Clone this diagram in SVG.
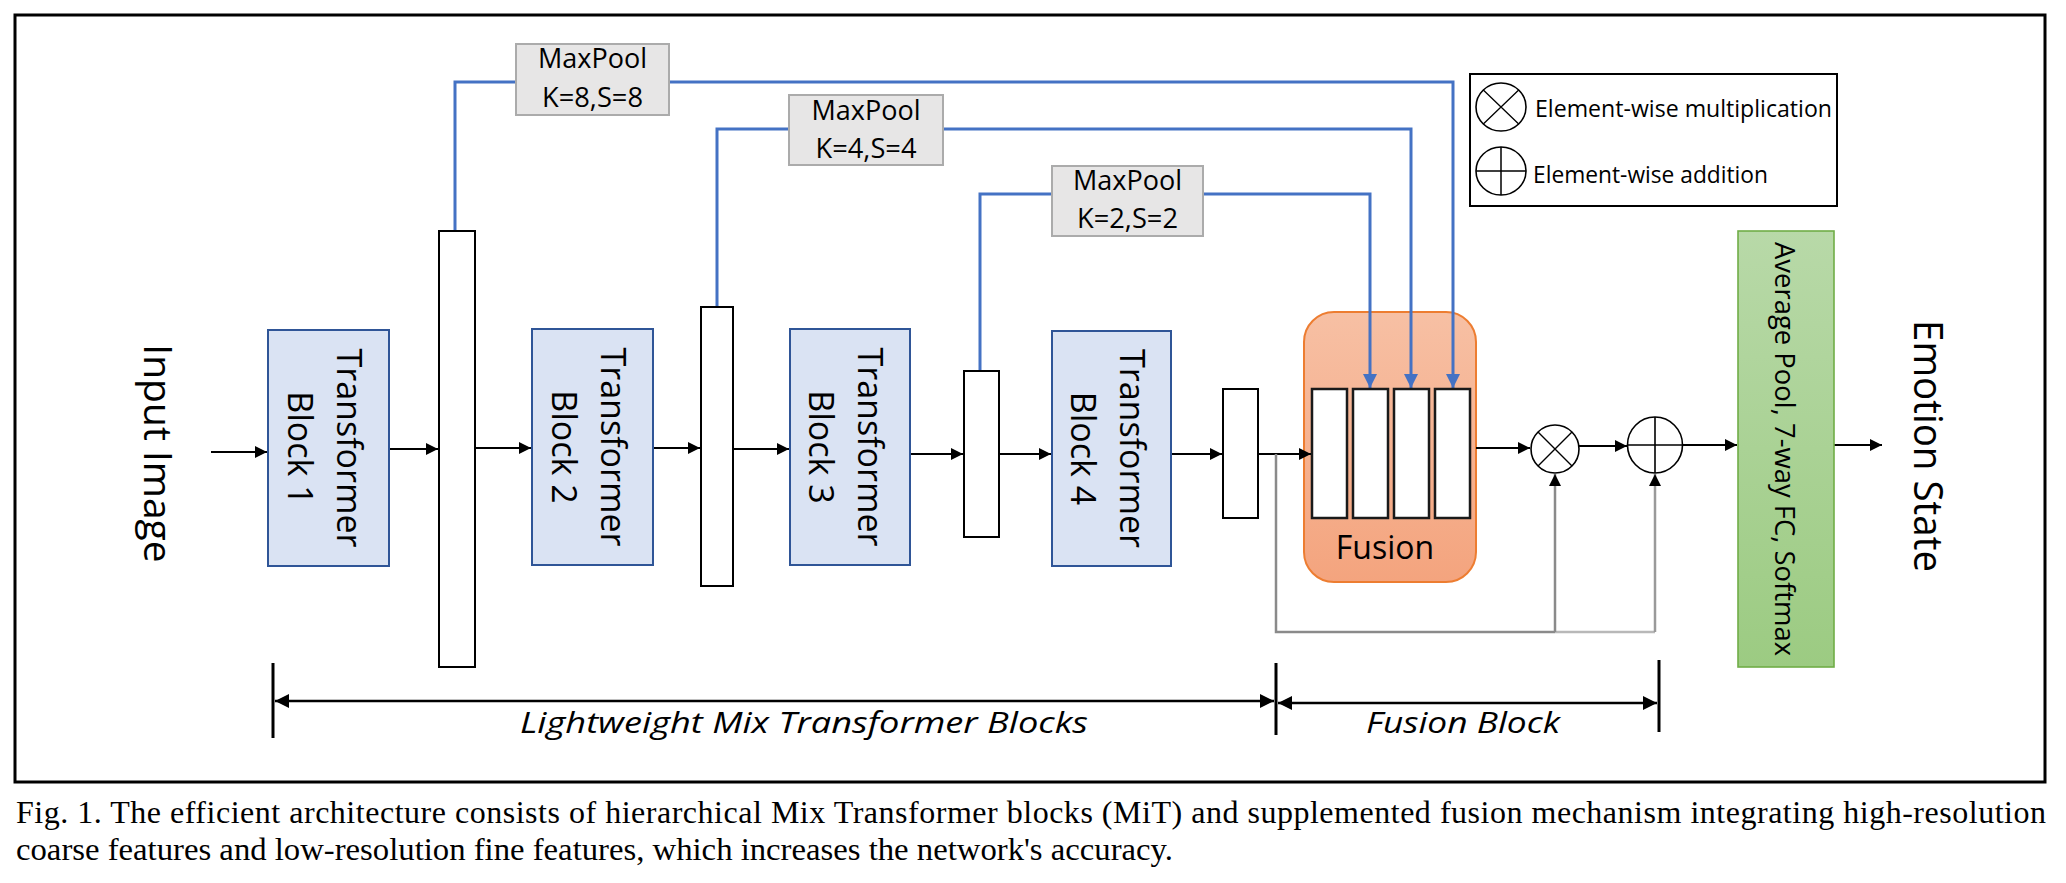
<svg xmlns="http://www.w3.org/2000/svg" width="2066" height="883" viewBox="0 0 2066 883">
<style>
.sans{font-family:"Open Sans","Noto Sans","DejaVu Sans",sans-serif;fill:#000}
.serif{font-family:"Liberation Serif","Times New Roman",serif;fill:#000}
.tb{fill:#dae3f3;stroke:#2f5597;stroke-width:2}
.bar{fill:#fff;stroke:#000;stroke-width:2}
.fbar{fill:#fff;stroke:#1a1a1a;stroke-width:2.5}
.mp{fill:#e7e6e6;stroke:#ababab;stroke-width:2}
.blk{fill:none;stroke:#000;stroke-width:1.8}
.blue{fill:none;stroke:#4472c4;stroke-width:3}
.gray{fill:none;stroke:#8a8a8a;stroke-width:2.5}
.dim{fill:none;stroke:#000;stroke-width:3}
.sym{fill:#fff;stroke:#000;stroke-width:1.6}
</style>
<defs>
<marker id="ah" viewBox="0 0 12 12" refX="12" refY="6" markerWidth="12" markerHeight="12" markerUnits="userSpaceOnUse" orient="auto-start-reverse"><path d="M0,0 L12,6 L0,12 z" fill="#000"/></marker>
<marker id="ahb" viewBox="0 0 14 14" refX="14" refY="7" markerWidth="14" markerHeight="14" markerUnits="userSpaceOnUse" orient="auto"><path d="M0,0 L14,7 L0,14 z" fill="#4472c4"/></marker>
<marker id="ahd" viewBox="0 0 14 14" refX="14" refY="7" markerWidth="14" markerHeight="14" markerUnits="userSpaceOnUse" orient="auto-start-reverse"><path d="M0,0 L14,7 L0,14 z" fill="#000"/></marker>
<linearGradient id="gf" x1="0" y1="0" x2="0" y2="1"><stop offset="0" stop-color="#f7c0a4"/><stop offset="1" stop-color="#f4a47e"/></linearGradient>
<linearGradient id="gg" x1="0" y1="0" x2="0" y2="1"><stop offset="0" stop-color="#b8d9a8"/><stop offset="1" stop-color="#9ccb82"/></linearGradient>
</defs>
<rect width="2066" height="883" fill="#fff"/>
<rect id="frame" x="15" y="15" width="2030" height="767" fill="none" stroke="#000" stroke-width="3"/>

<g id="fusion">
<rect x="1304" y="312" width="172" height="270" rx="30" ry="30" fill="url(#gf)" stroke="#ed7d31" stroke-width="2"/>
<text class="sans" x="1385" y="559" font-size="32" text-anchor="middle">Fusion</text>
</g>

<g id="connectors">
<path class="blue" d="M455,231 V82 H1453 V388" marker-end="url(#ahb)"/>
<path class="blue" d="M717,307 V129 H1411 V388" marker-end="url(#ahb)"/>
<path class="blue" d="M980,371 V194 H1370 V388" marker-end="url(#ahb)"/>
<line class="blk" x1="211" y1="452" x2="267" y2="452" marker-end="url(#ah)"/>
<line class="blk" x1="389" y1="449" x2="438" y2="449" marker-end="url(#ah)"/>
<line class="blk" x1="475" y1="448" x2="531" y2="448" marker-end="url(#ah)"/>
<line class="blk" x1="653" y1="448" x2="700" y2="448" marker-end="url(#ah)"/>
<line class="blk" x1="733" y1="449" x2="789" y2="449" marker-end="url(#ah)"/>
<line class="blk" x1="910" y1="454" x2="963" y2="454" marker-end="url(#ah)"/>
<line class="blk" x1="999" y1="454" x2="1051" y2="454" marker-end="url(#ah)"/>
<line class="blk" x1="1171" y1="454" x2="1222" y2="454" marker-end="url(#ah)"/>
<line class="blk" x1="1258" y1="454" x2="1311" y2="454" marker-end="url(#ah)"/>
<line class="blk" x1="1476" y1="448" x2="1530" y2="448" marker-end="url(#ah)"/>
<line class="blk" x1="1579" y1="446" x2="1627" y2="446" marker-end="url(#ah)"/>
<line class="blk" x1="1683" y1="445" x2="1737" y2="445" marker-end="url(#ah)"/>
<line class="blk" x1="1834" y1="445" x2="1882" y2="445" marker-end="url(#ah)"/>
<path class="gray" d="M1276,454 V632 H1555"/>
<path d="M1555,632 H1655" fill="none" stroke="#b8b8b8" stroke-width="2.5"/>
<line class="gray" x1="1555" y1="632" x2="1555" y2="474" marker-end="url(#ah)"/>
<line x1="1655" y1="632" x2="1655" y2="474" fill="none" stroke="#9a9a9a" stroke-width="2.5" marker-end="url(#ah)"/>
</g>

<g id="input-image">
<text class="sans" transform="translate(144,453.5) rotate(90)" font-size="39" text-anchor="middle">Input Image</text>
</g>

<g id="tb1">
<rect class="tb" x="268" y="330" width="121" height="236"/>
<g transform="translate(328.5,448) rotate(90)"><text class="sans" font-size="34" text-anchor="middle" y="-8">Transformer</text><text class="sans" font-size="34" text-anchor="middle" y="41">Block 1</text></g>
</g>
<g id="tb2">
<rect class="tb" x="532" y="329" width="121" height="236"/>
<g transform="translate(592.5,447) rotate(90)"><text class="sans" font-size="34" text-anchor="middle" y="-8">Transformer</text><text class="sans" font-size="34" text-anchor="middle" y="41">Block 2</text></g>
</g>
<g id="tb3">
<rect class="tb" x="790" y="329" width="120" height="236"/>
<g transform="translate(850,447) rotate(90)"><text class="sans" font-size="34" text-anchor="middle" y="-8">Transformer</text><text class="sans" font-size="34" text-anchor="middle" y="41">Block 3</text></g>
</g>
<g id="tb4">
<rect class="tb" x="1052" y="331" width="119" height="235"/>
<g transform="translate(1111.5,448.5) rotate(90)"><text class="sans" font-size="34" text-anchor="middle" y="-8">Transformer</text><text class="sans" font-size="34" text-anchor="middle" y="41">Block 4</text></g>
</g>

<g id="bar1"><rect class="bar" x="439" y="231" width="36" height="436"/></g>
<g id="bar2"><rect class="bar" x="701" y="307" width="32" height="279"/></g>
<g id="bar3"><rect class="bar" x="964" y="371" width="35" height="166"/></g>
<g id="bar4"><rect class="bar" x="1223" y="389" width="35" height="129"/></g>

<g id="fusion-bars">
<rect class="fbar" x="1312" y="389" width="35" height="129"/>
<rect class="fbar" x="1353" y="389" width="35" height="129"/>
<rect class="fbar" x="1394" y="389" width="35" height="129"/>
<rect class="fbar" x="1435" y="389" width="35" height="129"/>
</g>

<g id="maxpool1">
<rect class="mp" x="516" y="44" width="153" height="71"/>
<text class="sans" x="592.5" y="68" font-size="27" text-anchor="middle" textLength="109" lengthAdjust="spacingAndGlyphs">MaxPool</text>
<text class="sans" x="592.5" y="107" font-size="27" text-anchor="middle" textLength="101" lengthAdjust="spacingAndGlyphs">K=8,S=8</text>
</g>
<g id="maxpool2">
<rect class="mp" x="789" y="95" width="154" height="70"/>
<text class="sans" x="866" y="120" font-size="27" text-anchor="middle" textLength="109" lengthAdjust="spacingAndGlyphs">MaxPool</text>
<text class="sans" x="866" y="158" font-size="27" text-anchor="middle" textLength="101" lengthAdjust="spacingAndGlyphs">K=4,S=4</text>
</g>
<g id="maxpool3">
<rect class="mp" x="1052" y="166" width="151" height="70"/>
<text class="sans" x="1127.5" y="190" font-size="27" text-anchor="middle" textLength="109" lengthAdjust="spacingAndGlyphs">MaxPool</text>
<text class="sans" x="1127.5" y="228" font-size="27" text-anchor="middle" textLength="101" lengthAdjust="spacingAndGlyphs">K=2,S=2</text>
</g>

<g id="multiply">
<circle class="sym" cx="1555" cy="449" r="24"/>
<path d="M1538,432 L1572,466 M1572,432 L1538,466" stroke="#000" stroke-width="1.4"/>
</g>
<g id="add">
<ellipse class="sym" cx="1655" cy="445" rx="27.5" ry="28"/>
<path d="M1627.5,445 H1682.5 M1655,417 V473" stroke="#000" stroke-width="1.6"/>
</g>

<g id="classifier">
<rect x="1738" y="231" width="96" height="436" fill="url(#gg)" stroke="#70ad47" stroke-width="1.6"/>
<text class="sans" transform="translate(1775,449) rotate(90)" font-size="28" text-anchor="middle" textLength="414" lengthAdjust="spacingAndGlyphs">Average Pool, 7-way FC, Softmax</text>
</g>

<g id="emotion-state">
<text class="sans" transform="translate(1914,446) rotate(90)" font-size="40" text-anchor="middle" textLength="252" lengthAdjust="spacingAndGlyphs">Emotion State</text>
</g>

<g id="legend">
<rect x="1470" y="74" width="367" height="132" fill="#fff" stroke="#000" stroke-width="2"/>
<ellipse class="sym" cx="1501" cy="107" rx="25" ry="24"/>
<path d="M1483.3,90 L1518.7,124 M1518.7,90 L1483.3,124" stroke="#000" stroke-width="1.3"/>
<text class="sans" x="1535" y="117" font-size="23" textLength="297" lengthAdjust="spacingAndGlyphs">Element-wise multiplication</text>
<ellipse class="sym" cx="1501" cy="171" rx="25" ry="24"/>
<path d="M1476,171 H1526 M1501,147 V195" stroke="#000" stroke-width="1.5"/>
<text class="sans" x="1533" y="183" font-size="23" textLength="235" lengthAdjust="spacingAndGlyphs">Element-wise addition</text>
</g>

<g id="dimensions">
<line class="dim" x1="273" y1="663" x2="273" y2="738"/>
<line class="dim" x1="1276" y1="663" x2="1276" y2="735"/>
<line class="dim" x1="1659" y1="660" x2="1659" y2="732"/>
<line x1="275" y1="701" x2="1274" y2="701" stroke="#000" stroke-width="2.5" marker-start="url(#ahd)" marker-end="url(#ahd)"/>
<line x1="1278" y1="703" x2="1657" y2="703" stroke="#000" stroke-width="2.5" marker-start="url(#ahd)" marker-end="url(#ahd)"/>
<text class="sans" x="520" y="733" font-size="30" font-style="italic" textLength="568" lengthAdjust="spacingAndGlyphs">Lightweight Mix Transformer Blocks</text>
<text class="sans" x="1366" y="733" font-size="30" font-style="italic" textLength="194" lengthAdjust="spacingAndGlyphs">Fusion Block</text>
</g>

<g id="caption">
<text class="serif" x="16" y="823" font-size="32" textLength="2030" lengthAdjust="spacing">Fig. 1. The efficient architecture consists of hierarchical Mix Transformer blocks (MiT) and supplemented fusion mechanism integrating high-resolution</text>
<text class="serif" x="16" y="860" font-size="32" textLength="1157" lengthAdjust="spacingAndGlyphs">coarse features and low-resolution fine features, which increases the network's accuracy.</text>
</g>
</svg>
